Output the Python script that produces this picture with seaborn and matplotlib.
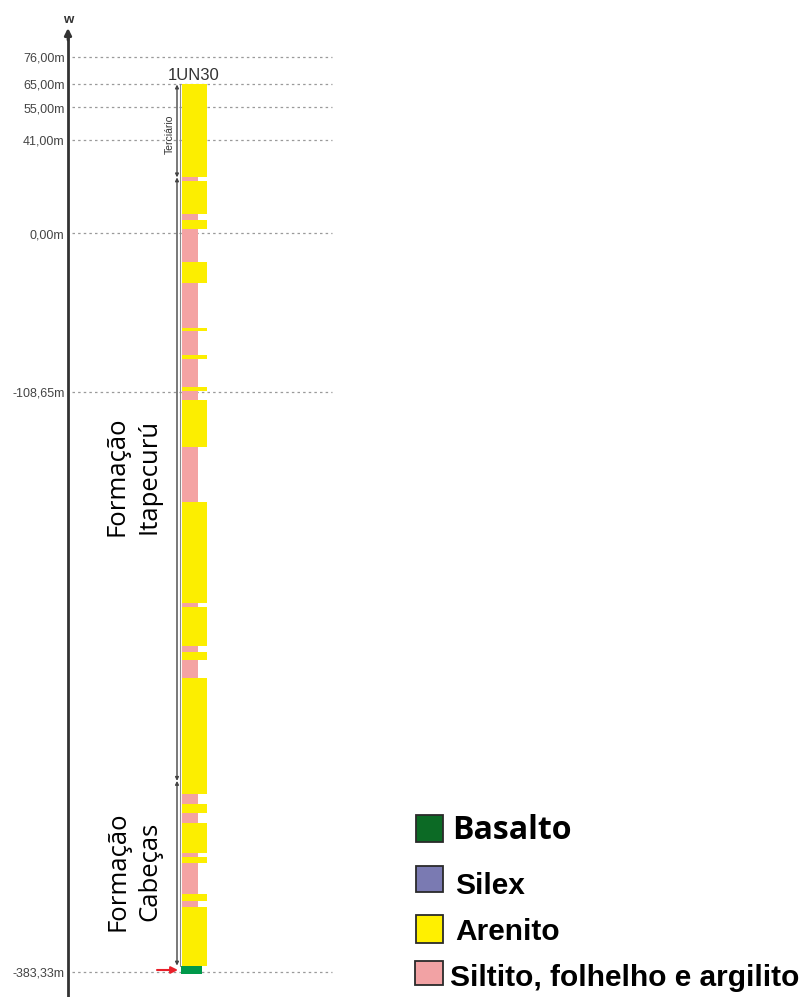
import numpy as np
import matplotlib
matplotlib.use("Agg")
import matplotlib.pyplot as plt
from matplotlib.patches import Rectangle
import seaborn as sns

# ---------------- data ----------------
well_name = "1UN30"
tick_values = [76.00, 65.00, 55.00, 41.00, 0.00, -108.65, -383.33]
tick_labels = ["76,00m", "65,00m", "55,00m", "41,00m", "0,00m", "-108,65m", "-383,33m"]

layer_top = [65.0, 24.6, 23.0, 8.5, 5.9, 2.0, -19.8, -34.2, -64.8, -67.0, -83.8,
             -86.5, -105.8, -108.5, -112.7, -134.8, -160.9, -208.9, -210.5, -228.9,
             -232.1, -235.8, -244.4, -299.3, -304.0, -308.2, -313.0, -326.9, -328.8,
             -331.9, -346.4, -349.9, -352.7, -380.3]
layer_bottom = [24.6, 23.0, 8.5, 5.9, 2.0, -19.8, -34.2, -64.8, -67.0, -83.8, -86.5,
                -105.8, -108.5, -112.7, -134.8, -160.9, -208.9, -210.5, -228.9, -232.1,
                -235.8, -244.4, -299.3, -304.0, -308.2, -313.0, -326.9, -328.8, -331.9,
                -346.4, -349.9, -352.7, -380.3, -384.5]
layer_lith = ["Arenito", "Siltito", "Arenito", "Siltito", "Arenito", "Siltito",
              "Arenito", "Siltito", "Arenito", "Siltito", "Arenito", "Siltito",
              "Arenito", "Siltito", "Arenito", "Siltito", "Arenito", "Siltito",
              "Arenito", "Siltito", "Arenito", "Siltito", "Arenito", "Siltito",
              "Arenito", "Siltito", "Arenito", "Siltito", "Arenito", "Siltito",
              "Arenito", "Siltito", "Arenito", "Basalto"]

units = ["Terciário", "Formação\nItapecurú", "Formação\nCabeças"]
unit_top = [65.0, 24.6, -292.9]
unit_bottom = [24.6, -292.9, -380.3]

legend_names = ["Basalto", "Silex", "Arenito", "Siltito, folhelho e argilito"]

# ---------------- styles ----------------
col_color = {"Arenito": "#FCEE00", "Siltito": "#F4A3A3", "Basalto": "#00994A"}
col_left = {"Arenito": 181.5, "Siltito": 181.5, "Basalto": 180.5}
col_width = {"Arenito": 25.5, "Siltito": 16.5, "Basalto": 21.5}
leg_color = {"Basalto": "#0C6A25", "Silex": "#7A7AB2", "Arenito": "#FFF000",
             "Siltito, folhelho e argilito": "#F2A2A4"}

sns.set_style("white")
plt.rcParams["font.family"] = ["Liberation Sans", "DejaVu Sans"]

W, H = 801, 997
fig = plt.figure(figsize=(W / 100, H / 100), dpi=100)
ax = fig.add_axes([0, 0, 1, 1])

# piecewise scale matching the schematic vertical spacing of the reference
E = np.array(sorted(tick_values))
P = -np.array([972.0, 391.5, 233.5, 140.0, 107.5, 84.5, 57.0])


def _pw(x, xs, ys):
    x = np.asarray(x, dtype=float)
    shp = x.shape
    x = np.atleast_1d(x).ravel()
    out = np.interp(x, xs, ys)
    lo = x < xs[0]
    hi = x > xs[-1]
    out[lo] = ys[0] + (x[lo] - xs[0]) * (ys[1] - ys[0]) / (xs[1] - xs[0])
    out[hi] = ys[-1] + (x[hi] - xs[-1]) * (ys[-1] - ys[-2]) / (xs[-1] - xs[-2])
    return out.reshape(shp)


def fwd(e):
    return _pw(e, E, P)


def inv(p):
    return _pw(p, P, E)


def ypx(px):
    return float(inv(-px))


ax.set_xlim(0, W)
ax.set_yscale("function", functions=(fwd, inv))
ax.set_ylim(ypx(H), ypx(0))

# axis
for s in ["top", "right", "bottom"]:
    ax.spines[s].set_visible(False)
ax.spines["left"].set_position(("data", 68))
ax.spines["left"].set_bounds(ypx(H), ypx(34))
ax.spines["left"].set_linewidth(2)
ax.spines["left"].set_color("#333333")
ax.set_xticks([])
ax.set_yticks(tick_values, tick_labels)
ax.minorticks_off()
ax.tick_params(axis="y", length=0, pad=2.5, labelsize=9, labelcolor="#444444")
ax.annotate("", xy=(68, ypx(28)), xytext=(68, ypx(40)),
            arrowprops=dict(arrowstyle="-|>", color="#333333", lw=2, mutation_scale=10,
                            shrinkA=0, shrinkB=0))
ax.text(68, ypx(20), "w", ha="center", va="center", fontsize=9.5, fontweight="bold",
        color="#333333")

# dotted grid
ax.hlines(tick_values, 72, 332, colors="#9a9a9a", linewidth=0.9, linestyles=(0, (2, 2.5)))

# lithology column
for t, b, l in zip(layer_top, layer_bottom, layer_lith):
    ax.bar(col_left[l], t - b, bottom=b, width=col_width[l], align="edge",
           color=col_color[l], linewidth=0, zorder=3)
ax.plot([180, 180], [layer_top[0], layer_bottom[-2]], color="#8a8a8a", lw=0.8, zorder=2)

ax.text(194, ypx(75), well_name, ha="center", va="center", fontsize=12, color="#333333")

# unit brackets
for u, t, b in zip(units, unit_top, unit_bottom):
    ax.annotate("", xy=(177, t), xytext=(177, b),
                arrowprops=dict(arrowstyle="<|-|>", color="#444444", lw=1,
                                mutation_scale=5, shrinkA=0, shrinkB=0))
ax.text(170, ypx(134), units[0], rotation=90, ha="center", va="center", fontsize=7.5,
        color="#333333")
ax.text(133, ypx(476), units[1], rotation=90, ha="center", va="center", fontsize=18.5,
        family="Open Sans", color="black", linespacing=1.4, multialignment="center")
ax.text(134, ypx(871), units[2], rotation=90, ha="center", va="center", fontsize=18.5,
        family="Open Sans", color="black", linespacing=1.4, multialignment="center")

# red arrow at bottom
ax.annotate("", xy=(178, ypx(970)), xytext=(157, ypx(970)),
            arrowprops=dict(arrowstyle="-|>", color="#E8202A", lw=1.5, mutation_scale=10,
                            shrinkA=0, shrinkB=0))

# legend
leg_boxes = [(416, 815, 27, 27), (416, 866, 27, 26), (416, 915, 27, 28), (415, 961, 28, 24)]
leg_text = [(452, 839), (455, 894), (455, 940), (450, 986)]
leg_font = [dict(family="Open Sans", fontweight="bold", fontsize=23),
            dict(family="Liberation Sans", fontweight="bold", fontsize=21.5),
            dict(family="Liberation Sans", fontweight="bold", fontsize=21.5),
            dict(family="Liberation Sans", fontweight="bold", fontsize=21.5)]
for name, (x0, y0, w, h), (tx, ty), fp in zip(legend_names, leg_boxes, leg_text, leg_font):
    fig.patches.append(Rectangle((x0 / W, 1 - (y0 + h) / H), w / W, h / H,
                                 transform=fig.transFigure, facecolor=leg_color[name],
                                 edgecolor="#2a2a2a", linewidth=1.3))
    fig.text(tx / W, 1 - ty / H, name, ha="left", va="baseline", color="black", **fp)

fig.savefig("out.png", dpi=100)
